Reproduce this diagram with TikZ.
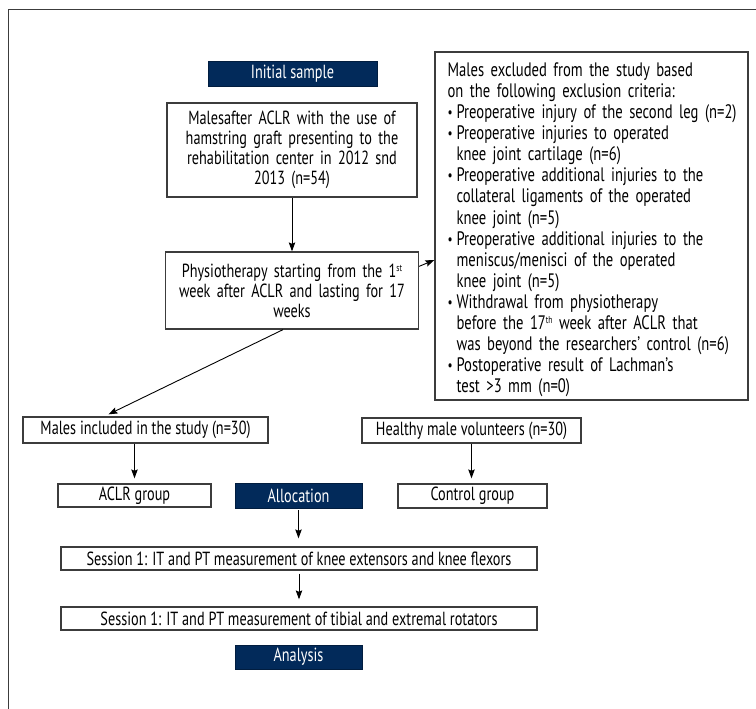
\documentclass[tikz,border=0pt]{standalone}
\usepackage{fontspec}
\setmainfont{PT Sans}[FakeStretch=0.75]
\usetikzlibrary{arrows.meta,calc}
\definecolor{navy}{HTML}{022A5A}
\definecolor{edgegray}{HTML}{3C3C3C}
\newcommand\myfs{\fontsize{19}{20}\selectfont}
\newcommand\exfs{\fontsize{19.5}{21.1}\selectfont}
\newcommand\bul{\makebox[9pt][l]{\fontsize{15}{15}\selectfont\raisebox{1pt}{•}}}
\newcommand\ind{\hspace*{9pt}}
\newcommand\supsm[1]{\raisebox{6pt}{\fontsize{10}{10}\selectfont #1}}
\begin{document}
\begin{tikzpicture}[x=1pt,y=-1pt,
  box/.style={draw=edgegray,line width=1.3pt,fill=white,inner sep=0pt,align=center,font=\myfs},
  hdr/.style={fill=navy,draw=navy!70!black,line width=0.8pt,text=white,inner sep=0pt,font=\myfs},
  arr/.style={-{Stealth[length=9pt,width=6.5pt,inset=1.5pt]},line width=0.9pt,black}]
\useasboundingbox (0,0) rectangle (756,709);
\draw[edgegray,line width=1pt] (8,709) -- (8,10) -- (756,10);

\node[hdr,minimum width=169,minimum height=25] (init) at (292.5,73.5) {Initial sample};
\node[box,minimum width=250,minimum height=94,text width=244] (ma) at (292,150)
  {Malesafter ACLR with the use of\\hamstring graft presenting to the\\rehabilitation center in 2012 snd\\2013 (n=54)};
\node[box,minimum width=253,minimum height=77,text width=247] (ph) at (292,290.5)
  {Physiotherapy starting from the 1\supsm{st}\\week after ACLR and lasting for 17\\weeks};
\node[box,minimum width=313,minimum height=348] (ex) at (591.5,226) {};
\node[anchor=north west,inner sep=0pt,align=left,font=\exfs,text width=298] (extext) at ([xshift=13pt,yshift=-11pt]ex.north west)
  {Males excluded from the study based\\
   on the following exclusion criteria:\\
   \bul Preoperative injury of the second leg (n=2)\\
   \bul Preoperative injuries to operated\\
   \ind knee joint cartilage (n=6)\\
   \bul Preoperative additional injuries to the\\
   \ind collateral ligaments of the operated\\
   \ind knee joint (n=5)\\
   \bul Preoperative additional injuries to the\\
   \ind meniscus/menisci of the operated\\
   \ind knee joint (n=5)\\
   \bul Withdrawal from physiotherapy\\
   \ind before the 17\supsm{th} week after ACLR that\\
   \ind was beyond the researchers’ control (n=6)\\
   \bul Postoperative result of Lachman’s\\
   \ind test >3 mm (n=0)};

\node[box,minimum width=245,minimum height=26] (mi) at (145.5,430) {Males included in the study (n=30)};
\node[box,minimum width=219,minimum height=25] (hv) at (471.5,430.5) {Healthy male volunteers (n=30)};
\node[box,minimum width=153,minimum height=23] (aclr) at (134.5,495.5) {ACLR group};
\node[hdr,minimum width=127,minimum height=25] (alloc) at (298.5,495.5) {Allocation};
\node[box,minimum width=149,minimum height=24] (ctrl) at (472.5,496) {Control group};
\node[box,minimum width=476,minimum height=23] (s1) at (299,558.5) {Session 1: IT and PT measurement of knee extensors and knee flexors};
\node[box,minimum width=476,minimum height=23] (s2) at (299,618.5) {Session 1: IT and PT measurement of tibial and extremal rotators};
\node[hdr,minimum width=127,minimum height=24] (an) at (298.5,657) {Analysis};

\draw[arr] (ma.south) -- (ph.north);
\draw[arr] ([yshift=-15pt]ph.north east) -- ([yshift=-34pt]ex.west);
\draw[arr] ([xshift=-9pt]ph.south) -- ([xshift=-37pt,yshift=2pt]mi.north);
\draw[arr,shorten >=5pt] (aclr.north |- mi.south) -- (aclr.north);
\draw[arr,shorten >=5pt] (hv.south) -- (hv.south |- ctrl.north);
\draw[arr,shorten >=8pt,shorten <=2pt] (alloc.south) -- (alloc.south |- s1.north);
\draw[arr,shorten >=7pt,shorten <=3pt] (s1.south) -- (s2.north);
\end{tikzpicture}
\end{document}
